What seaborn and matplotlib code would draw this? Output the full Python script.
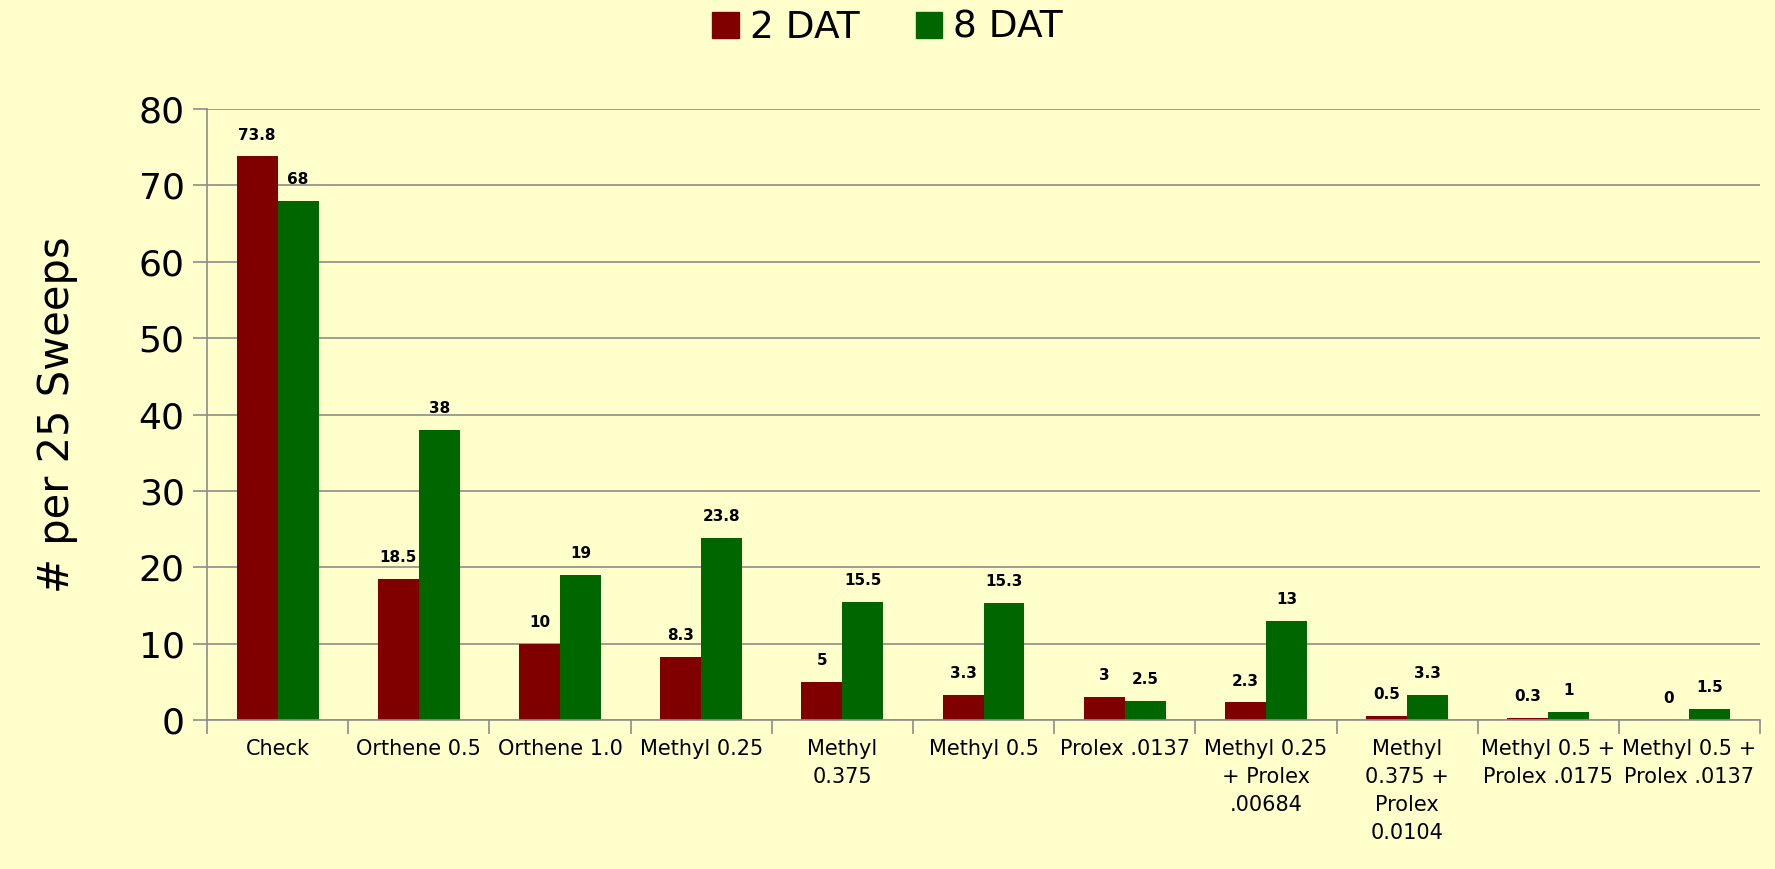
import numpy as np
import pandas as pd
import seaborn as sns
import matplotlib.pyplot as plt
from matplotlib.ticker import MultipleLocator

categories = ['Check', 'Orthene 0.5', 'Orthene 1.0', 'Methyl 0.25', 'Methyl\n0.375',
              'Methyl 0.5', 'Prolex .0137', 'Methyl 0.25\n+ Prolex\n.00684',
              'Methyl\n0.375 +\nProlex\n0.0104', 'Methyl 0.5 +\nProlex .0175',
              'Methyl 0.5 +\nProlex .0137']
dat2 = [73.8, 18.5, 10, 8.3, 5, 3.3, 3, 2.3, 0.5, 0.3, 0]
dat8 = [68, 38, 19, 23.8, 15.5, 15.3, 2.5, 13, 3.3, 1, 1.5]
series = ['2 DAT', '8 DAT']
colors = ['#800000', '#006600']

df = pd.DataFrame({
    'cat': categories * 2,
    'val': dat2 + dat8,
    'series': [series[0]] * len(dat2) + [series[1]] * len(dat8),
})

sns.set_style('white')
plt.rcParams['font.family'] = ['DejaVu Sans']
plt.rcParams['text.color'] = 'black'
plt.rcParams['xtick.color'] = 'black'
plt.rcParams['ytick.color'] = 'black'
plt.rcParams['axes.labelcolor'] = 'black'

bg = '#FFFFCC'
fig = plt.figure(figsize=(17.75, 8.69), dpi=100, facecolor=bg)
ax = fig.add_axes([0.1166, 0.1715, 0.875, 0.703])
ax.set_facecolor(bg)

sns.barplot(data=df, x='cat', y='val', hue='series', palette=colors,
            width=0.58, ax=ax, saturation=1, edgecolor='none', legend=False)

#value labels
for cont, vals in zip(ax.containers, [dat2, dat8]):
    for b, v in zip(cont, vals):
        ax.annotate('{:g}'.format(v),
                    xy=(b.get_x() + b.get_width() / 2, b.get_height()),
                    xytext=(0, 10), textcoords='offset points',
                    ha='center', va='bottom', fontsize=11, fontweight='bold')

#axes
ax.set_ylim(0, 80)
ax.set_xlim(-0.5, len(categories) - 0.5)
ax.yaxis.set_major_locator(MultipleLocator(10))
ax.grid(axis='y', color='#8c8c8c', linewidth=1.2)
ax.set_axisbelow(True)
for s in ['top', 'right']:
    ax.spines[s].set_visible(False)
for s in ['left', 'bottom']:
    ax.spines[s].set_color('#8c8c8c')
    ax.spines[s].set_linewidth(1.2)

ax.tick_params(axis='y', length=10, width=1.2, color='#8c8c8c', labelcolor='black',
               labelsize=26, pad=6, direction='out', left=True)
ax.set_xticks(np.arange(len(categories)))
ax.set_xticklabels(categories, fontsize=15, linespacing=1.5, color='black')
ax.tick_params(axis='x', length=0, pad=14)
ax.set_xticks(np.arange(len(categories) + 1) - 0.5, minor=True)
ax.tick_params(axis='x', which='minor', length=10, width=1.2, color='#8c8c8c',
               direction='out', bottom=True)

ax.set_xlabel('')
ax.set_ylabel('# per 25 Sweeps', fontsize=30, labelpad=44)

handles = [plt.Rectangle((0, 0), 1, 1, color=c) for c in colors]
fig.legend(handles, series, loc='center', bbox_to_anchor=(0.5, 0.968), ncol=2,
           frameon=False, fontsize=27, handlelength=0.7, handleheight=0.7,
           handletextpad=0.3, columnspacing=1.5)

plt.savefig('out.png', facecolor=bg)
